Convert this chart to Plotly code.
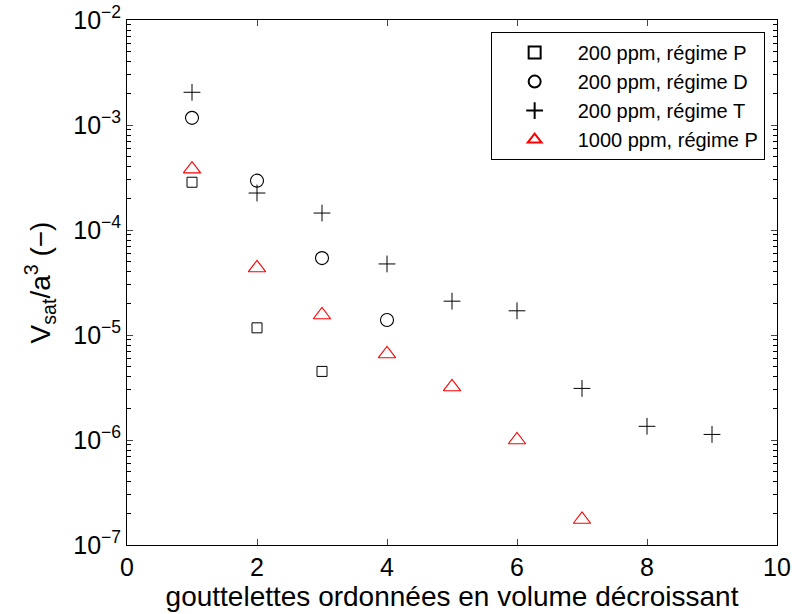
import plotly.graph_objects as go

x_p200 = [1, 2, 3]
y_p200 = [2.85e-4, 1.17e-5, 4.5e-6]
x_d200 = [1, 2, 3, 4]
y_d200 = [1.17e-3, 2.95e-4, 5.4e-5, 1.39e-5]
x_t200 = [1, 2, 3, 4, 5, 6, 7, 8, 9]
y_t200 = [2.05e-3, 2.25e-4, 1.45e-4, 4.75e-5, 2.1e-5, 1.7e-5, 3.1e-6, 1.35e-6, 1.13e-6]
x_p1000 = [1, 2, 3, 4, 5, 6, 7]
y_p1000 = [3.8e-4, 4.35e-5, 1.55e-5, 6.6e-6, 3.2e-6, 1.0e-6, 1.75e-7]

names = ["200 ppm, régime P", "200 ppm, régime D", "200 ppm, régime T", "1000 ppm, régime P"]
y_tickvals = [1e-7, 1e-6, 1e-5, 1e-4, 1e-3, 1e-2]
y_ticktext = ["10<sup>−7</sup>", "10<sup>−6</sup>", "10<sup>−5</sup>", "10<sup>−4</sup>", "10<sup>−3</sup>", "10<sup>−2</sup>"]
x_tickvals = [0, 2, 4, 6, 8, 10]

fig = go.Figure()
fig.add_trace(go.Scatter(x=x_p200, y=y_p200, mode="markers", name=names[0],
                         marker=dict(symbol="square-open", size=10, color="black", line=dict(width=1))))
fig.add_trace(go.Scatter(x=x_d200, y=y_d200, mode="markers", name=names[1],
                         marker=dict(symbol="circle-open", size=13, color="black", line=dict(width=1.1))))
fig.add_trace(go.Scatter(x=x_t200, y=y_t200, mode="markers", name=names[2],
                         marker=dict(symbol="cross-thin", size=12, color="black", line=dict(width=1, color="black"))))
fig.add_trace(go.Scatter(x=x_p1000, y=y_p1000, mode="markers", name=names[3],
                         marker=dict(symbol="triangle-up-open", size=15, color="red", line=dict(width=1.1))))

minor_vals = [m * 10.0 ** e for e in range(-7, -2) for m in range(2, 10)]

fig.update_layout(
    width=792, height=614,
    paper_bgcolor="white", plot_bgcolor="white",
    margin=dict(l=127, r=15, t=20, b=69, autoexpand=False),
    font=dict(family="Liberation Sans, Arial, sans-serif", color="black", size=20),
    showlegend=True,
    legend=dict(x=0.981, y=0.977, xanchor="right", yanchor="top",
                bordercolor="black", borderwidth=1, bgcolor="white",
                font=dict(size=20), itemsizing="constant", itemwidth=76, tracegroupgap=0),
    xaxis=dict(range=[0, 10], tickvals=x_tickvals, ticks="inside", ticklen=6,
               showline=True, linecolor="black", linewidth=1, mirror="ticks",
               showgrid=False, zeroline=False, tickfont=dict(size=25), automargin=False,
               title=dict(text="gouttelettes ordonnées en volume décroissant", font=dict(size=28), standoff=2)),
    yaxis=dict(type="log", range=[-7, -2], tickvals=y_tickvals, ticktext=y_ticktext,
               ticks="inside", ticklen=6,
               showline=True, linecolor="black", linewidth=1, mirror="ticks",
               showgrid=False, zeroline=False, tickfont=dict(size=25), automargin=False,
               minor=dict(tickvals=minor_vals, ticks="inside", ticklen=4, showgrid=False, tickcolor="black"),
               title=dict(text="V<sub>sat</sub>/a<sup>3</sup> (−)", font=dict(size=28), standoff=14)),
)

fig.write_html("out.html", config={"displayModeBar": False},
               post_script="document.body.style.margin='0';document.body.style.padding='0';")
